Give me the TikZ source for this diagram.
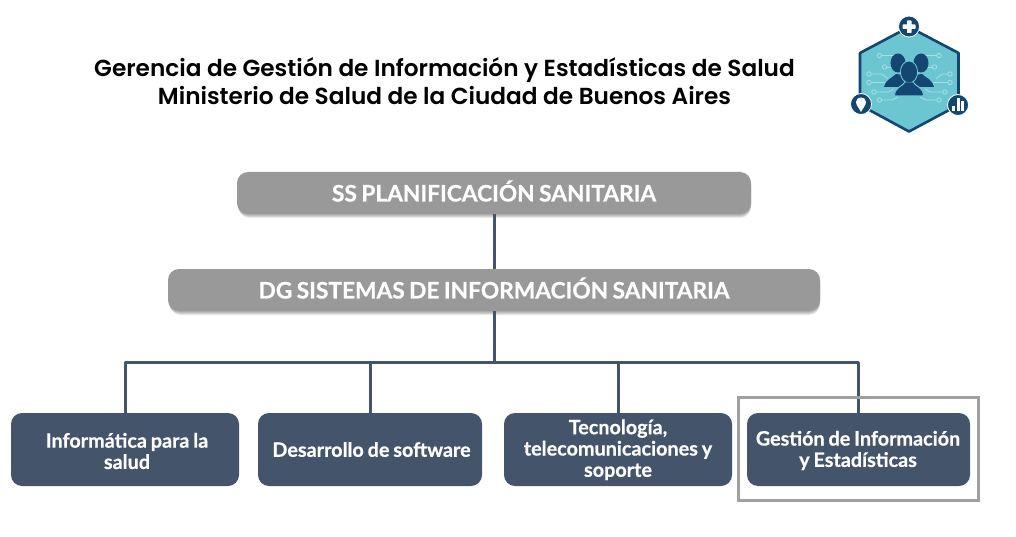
\documentclass[tikz,border=0pt]{standalone}
\usepackage{fontspec}
\setmainfont{Lato}[BoldFeatures={FakeBold=0.6,WordSpace=0.8}]
\newfontfamily\titlefont{Poppins SemiBold}[BoldFont={Poppins SemiBold}]
\definecolor{navy}{HTML}{44546A}
\definecolor{greybox}{HTML}{999999}
\definecolor{framegrey}{HTML}{A0A0A0}
\definecolor{hexfill}{HTML}{6CC6D2}
\definecolor{hexline}{HTML}{134670}
\definecolor{trace}{HTML}{A9DEE4}
\tikzset{
  x=1pt,y=-1pt,
  topbox/.style={fill=greybox,rounded corners=11pt,inner sep=0pt},
  toplabel/.style={text=white,inner sep=0pt,font=\fontsize{22.7}{25}\selectfont\bfseries},
  unitbox/.style={fill=navy,rounded corners=11pt,inner sep=0pt,minimum height=73pt},
  unitlabel/.style={inner sep=0pt,text=white,font=\fontsize{19.8}{21.3}\selectfont\bfseries,align=center},
  link/.style={draw=navy,line width=3pt},
  softshadow/.style={fill=black,opacity=0.09,rounded corners=11pt},
  titletext/.style={font=\titlefont\fontsize{23.2}{28.5}\selectfont,align=center,text=black},
  tr/.style={draw=trace,line width=0.8pt},
  trdot/.style={draw=trace,line width=0.8pt,fill=hexfill},
  badge/.style={circle,fill=hexline,draw=white,line width=0.8pt,minimum size=21pt,inner sep=0pt}
}
\begin{document}
\begin{tikzpicture}
\useasboundingbox (0,0) rectangle (1016,537);
\fill[white] (0,0) rectangle (1016,537);

% title
\node[titletext] (title) at (444.5,81) {Gerencia de Gestión de Información y Estadísticas de Salud\\Ministerio de Salud de la Ciudad de Buenos Aires};

% shadows of the grey boxes
\foreach \d in {1,2,3,4}{
  \fill[softshadow] (237,{172+\d}) ++(\d*0.4,0) rectangle (751,{214+\d});
  \fill[softshadow] (168,{269+\d}) ++(\d*0.4,0) rectangle (820,{311+\d});
}

% grey boxes
\node[topbox,minimum width=514pt,minimum height=42pt] (ss) at (494,193) {};
\node[topbox,minimum width=652pt,minimum height=42pt] (dg) at (494,290) {};
\node[toplabel] (sslabel) at (494,191) {SS PLANIFICACIÓN SANITARIA};
\node[toplabel] (dglabel) at (494,288) {DG SISTEMAS DE INFORMACIÓN SANITARIA};

% unit boxes
\node[unitbox,minimum width=228pt] (u1) at (125,449.5) {};
\node[unitbox,minimum width=224pt] (u2) at (370,449.5) {};
\node[unitbox,minimum width=228pt] (u3) at (618,449.5) {};
\node[unitbox,minimum width=223pt] (u4) at (858.5,449.5) {};
\node[unitlabel] (l1) at (127,451) {Informática para la\\salud};
\node[unitlabel] (l2) at (371.5,449.5) {Desarrollo de software};
\node[unitlabel] (l3) at (618,449.8) {Tecnología,\\telecomunicaciones y\\soporte};
\node[unitlabel] (l4) at (858,450.5) {Gestión de Información\\y Estadísticas};

% connectors
\coordinate (bus) at (494,362);
\draw[link] (ss.south) -- (dg.north);
\draw[link] (dg.south) -- (bus);
\draw[link,line join=round] (u1.north) -- (u1.north |- bus) -- (u4.north |- bus) -- (u4.north);
\draw[link] (u2.north |- bus) -- (u2.north);
\draw[link] (u3.north |- bus) -- (u3.north);

% highlight frame
\draw[draw=framegrey,line width=3pt] (738.5,397.5) rectangle (978.5,500.5);

% icon
\draw[fill=hexfill,draw=hexline,line width=2.6pt,line join=round] (909,27) -- (958.5,53) -- (958.5,105) -- (909,131.5) -- (860,105) -- (860,53) -- cycle;
% traces left
\draw[tr] (879.5,55.5) -- (900,55.5);
\draw[tr] (884.5,67) -- (895,67);
\draw[tr] (869,74) -- (882,74) -- (888,79);
\draw[tr] (869,82.5) -- (888,82.5);
\draw[tr] (874,92) -- (889,92) -- (893,89);
\draw[tr] (879.5,100) -- (892,100) -- (898,97);
\foreach \p in {(879.5,55.5),(884.5,67),(869,74),(869,82.5),(874,92),(879.5,100)} \draw[trdot] \p circle (2.2);
% traces right
\draw[tr] (918,55.5) -- (939,55.5);
\draw[tr] (923,67) -- (934.5,67);
\draw[tr] (936,79) -- (942,74) -- (950,74);
\draw[tr] (930,82.5) -- (950,82.5);
\draw[tr] (925,89) -- (930,92) -- (945,92);
\draw[tr] (920,97) -- (926,100) -- (939,100);
\foreach \p in {(939,55.5),(934.5,67),(950,74),(950,82.5),(945,92),(939,100)} \draw[trdot] \p circle (2.2);
% people
\fill[hexline] (884,87) .. controls (885,80) and (892,78) .. (896,74) -- (903,75) -- (905,87) -- cycle;
\fill[hexline] (934,87) .. controls (933,80) and (926,78) .. (922,74) -- (915,75) -- (913,87) -- cycle;
\fill[hexline] (898,63) ellipse (7.5 and 9.5);
\fill[hexline] (921,63) ellipse (7.5 and 9.5);
\draw[hexfill,line width=1pt,fill=hexline] (909,72) ellipse (8.5 and 11);
\draw[hexfill,line width=1pt,fill=hexline] (894.5,96) .. controls (894.5,87) and (902,87) .. (905,82) -- (913,82) .. controls (916,87) and (923.5,87) .. (923.5,96) -- cycle;
\fill[hexline] (909,72) ellipse (7.8 and 10.3);
% badges
\node[badge] (bplus) at (909,26.5) {};
\fill[white,rounded corners=0.6pt] (902.5,24.5) rectangle (915.5,29);
\fill[white,rounded corners=0.6pt] (907,20.5) rectangle (911.5,33);
\node[badge] (bpin) at (861,104) {};
\fill[white] (861,112) .. controls (859,108) and (856,105) .. (856,102) .. controls (856,96) and (866,96) .. (866,102) .. controls (866,105) and (863,108) .. (861,112) -- cycle;
\node[badge] (bbar) at (958,105) {};
\fill[white] (952,106) rectangle (955,111);
\fill[white] (956.5,98.5) rectangle (959.5,111);
\fill[white] (961,101) rectangle (964,111);
\end{tikzpicture}
\end{document}
